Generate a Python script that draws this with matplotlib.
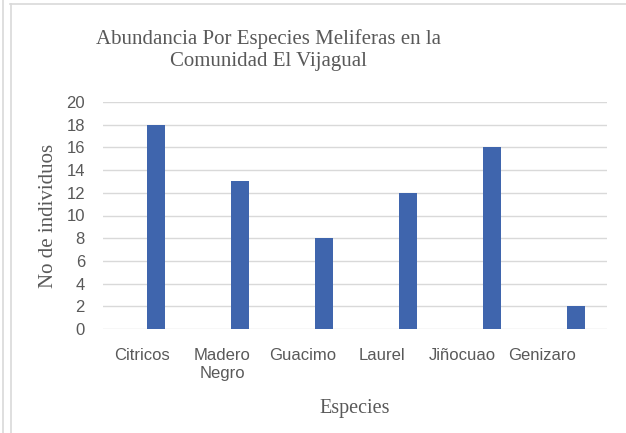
import numpy as np
import matplotlib
matplotlib.use("Agg")
import matplotlib.pyplot as plt
from matplotlib.lines import Line2D

especies = ["Citricos", "Madero\nNegro", "Guacimo", "Laurel", "Jiñocuao", "Genizaro"]
individuos = [18, 13, 8, 12, 16, 2]
y_ticks = list(range(0, 21, 2))

gray_text = "#595959"
grid_gray = "#d9d9d9"
bar_color = "#3F65AD"

fig = plt.figure(figsize=(6.26, 4.33), dpi=100)
ax = fig.add_axes([103 / 626, 1 - 329 / 433, 504 / 626, 227 / 433])

x = np.arange(len(especies))
ax.bar(x + 0.13, individuos, width=0.22, color=bar_color, zorder=3)

ax.set_xlim(-0.5, len(especies) - 0.5)
ax.set_ylim(0, 20)
ax.set_yticks(y_ticks)
ax.set_yticklabels([str(v) for v in y_ticks], fontsize=12, color=gray_text,
                   family="Liberation Sans")
ax.set_xticks(x * 0.952 - 0.03)
ax.set_xticklabels(especies, fontsize=12, color=gray_text, family="Liberation Sans",
                   linespacing=1.2)
ax.tick_params(axis="both", length=0)
ax.tick_params(axis="x", pad=14)
ax.tick_params(axis="y", pad=13)
ax.grid(axis="y", color=grid_gray, linewidth=1, zorder=0)
for s in ax.spines.values():
    s.set_visible(False)

ax.set_ylabel("No de individuos", family="Liberation Serif", fontsize=15,
              color=gray_text, labelpad=6)
ax.set_xlabel("Especies", family="Liberation Serif", fontsize=14.5,
              color=gray_text, labelpad=13)

fig.text(268 / 626, 1 - 50 / 433,
         "Abundancia Por Especies Meliferas en la\nComunidad El Vijagual",
         ha="center", va="center", family="Liberation Serif", fontsize=15,
         color=gray_text, linespacing=1.2)

# chart frame lines
fig.add_artist(Line2D([10 / 626, 1], [1 - 4 / 433, 1 - 4 / 433], color=grid_gray, lw=1.2))
fig.add_artist(Line2D([10.5 / 626, 10.5 / 626], [0, 1 - 4 / 433], color=grid_gray, lw=1.2))
fig.add_artist(Line2D([2.5 / 626, 2.5 / 626], [0, 1], color=grid_gray, lw=1.2))

fig.savefig("out.png", dpi=100)
